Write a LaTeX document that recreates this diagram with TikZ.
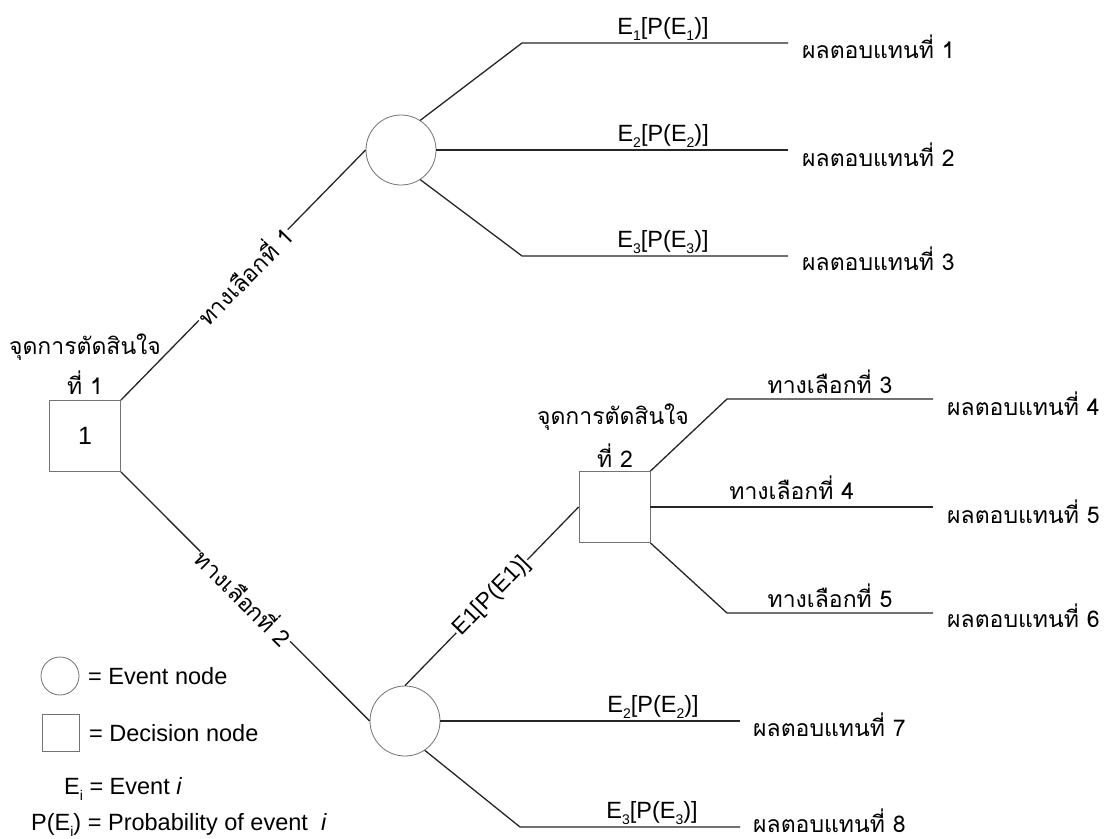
\documentclass[tikz,border=0pt]{standalone}
\usepackage{fontspec}
\setmainfont{Liberation Sans}
\newfontfamily\thaifont[Script=Thai]{Loma}
% small lowered index as in E_1
\newcommand\sbs[1]{\raisebox{-0.5ex}{\fontsize{14}{14}\selectfont #1}}
\begin{document}
\begin{tikzpicture}[x=1pt,y=-1pt,
  branch/.style={draw=black!85, line width=1.3pt},
  evt/.style={circle, draw=black!55, line width=0.8pt, minimum size=70pt, inner sep=0pt},
  dec/.style={rectangle, draw=black!55, line width=0.8pt, minimum size=71pt, inner sep=0pt},
  th/.style={font=\fontsize{23}{25}\selectfont, inner sep=1pt},
  ev/.style={font=\fontsize{23.5}{25}\selectfont, inner sep=2pt},
  outc/.style={font=\fontsize{23}{25}\selectfont, anchor=west, inner sep=0pt},
  onl/.style={midway, sloped, fill=white, inner sep=1pt, font=\fontsize{23}{25}\selectfont},
  lg/.style={font=\fontsize{23.5}{25}\selectfont, anchor=west, inner sep=0pt}
]
\fill[white] (0,0) rectangle (1105,838);
\useasboundingbox (0,0) rectangle (1105,838);

% decision and event nodes
\node[dec, font=\fontsize{25}{27}\selectfont] (d1) at (85,436) {1};
\node[evt] (c1) at (401,150) {};
\node[evt] (c2) at (405,721) {};
\node[dec] (d2) at (614.5,507) {};

% captions of the decision nodes
\node[th] (d1a) at (85,347) {\thaifont จุดการตัดสินใจ};
\node[th] (d1b) at (85,383) {\thaifont ที่ 1};
\node[th] (d2a) at (613,417) {\thaifont จุดการตัดสินใจ};
\node[th] (d2b) at (615,456) {\thaifont ที่ 2};

% bends and free ends
\coordinate (b11) at (522,43);  \coordinate (e11) at (788,43);
\coordinate (e12) at (788,150);
\coordinate (b13) at (522,256); \coordinate (e13) at (788,256);
\coordinate (b23) at (727,399); \coordinate (e23) at (933,399);
\coordinate (e24) at (933,507);
\coordinate (b25) at (727,613); \coordinate (e25) at (933,613);
\coordinate (e27) at (740,721);
\coordinate (b28) at (520,827); \coordinate (e28) at (740,827);

% first decision
\draw[branch] (d1.north east) -- node[onl] {\thaifont ทางเลือกที่ 1} (c1.west);
\draw[branch] (d1.south east) -- node[onl] {\thaifont ทางเลือกที่ 2} (c2.west);

% events after alternative 1
\draw[branch] (c1.57) -- (b11) -- node[ev, above, pos=0.53] (l11) {E\sbs{1}[P(E\sbs{1})]} (e11);
\draw[branch] (c1.east) -- node[ev, above, pos=0.645] (l12) {E\sbs{2}[P(E\sbs{2})]} (e12);
\draw[branch] (c1.-57) -- (b13) -- node[ev, above, pos=0.53] (l13) {E\sbs{3}[P(E\sbs{3})]} (e13);

% events after alternative 2
\draw[branch] (c2.north) -- node[onl] {E1[P(E1)]} (d2.west);
\draw[branch] (c2.east) -- node[ev, above, pos=0.71] (l27) {E\sbs{2}[P(E\sbs{2})]} (e27);
\draw[branch] (c2.-56) -- (b28) -- node[ev, above, pos=0.6] (l28) {E\sbs{3}[P(E\sbs{3})]} (e28);

% second decision
\draw[branch] (d2.north east) -- (b23) -- node[th, above=4pt] (l23) {\thaifont ทางเลือกที่ 3} (e23);
\draw[branch] (d2.east) -- node[th, above=6pt] (l24) {\thaifont ทางเลือกที่ 4} (e24);
\draw[branch] (d2.south east) -- (b25) -- node[th, above=4pt] (l25) {\thaifont ทางเลือกที่ 5} (e25);

% payoffs
\node[outc] (o1) at (802,47) {\thaifont ผลตอบแทนที่ 1};
\node[outc] (o2) at (802,155) {\thaifont ผลตอบแทนที่ 2};
\node[outc] (o3) at (802,259) {\thaifont ผลตอบแทนที่ 3};
\node[outc] (o4) at (947,404) {\thaifont ผลตอบแทนที่ 4};
\node[outc] (o5) at (947,512) {\thaifont ผลตอบแทนที่ 5};
\node[outc] (o6) at (947,616) {\thaifont ผลตอบแทนที่ 6};
\node[outc] (o7) at (753,725) {\thaifont ผลตอบแทนที่ 7};
\node[outc] (o8) at (753,821) {\thaifont ผลตอบแทนที่ 8};

% legend
\node[circle, draw=black!55, line width=0.8pt, minimum size=38pt, inner sep=0pt] (kc) at (60,676) {};
\node[lg] (kct) at (88,676) {= Event node};
\node[rectangle, draw=black!55, line width=0.8pt, minimum size=37pt, inner sep=0pt] (ks) at (61,733) {};
\node[lg] (kst) at (89,733) {= Decision node};
\node[lg] (ke) at (64,789) {E\sbs{i} = Event \textit{i}};
\node[lg] (kp) at (31,825) {P(E\sbs{i}) = Probability of event \ \textit{i}};
\end{tikzpicture}
\end{document}
